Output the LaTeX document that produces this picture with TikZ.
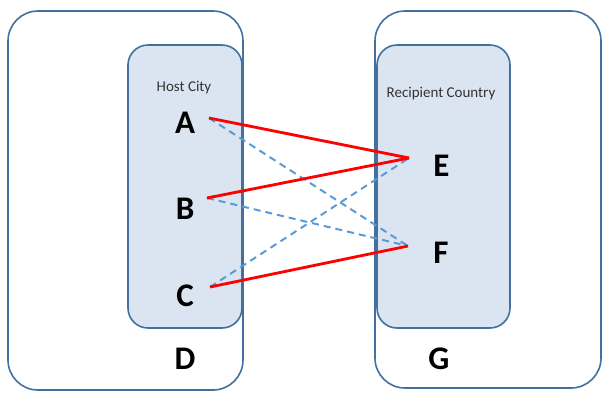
\documentclass[tikz,border=0pt]{standalone}
\usepackage{fontspec}
\setmainfont{Carlito}
\definecolor{frame}{RGB}{65,113,156}
\definecolor{panel}{RGB}{219,229,242}
\definecolor{link}{RGB}{91,155,213}

\begin{document}
\begin{tikzpicture}[x=1pt, y=-1pt,
		outer/.style={draw=frame, line width=1.6pt, rounded corners=30pt},
		inner/.style={draw=frame, fill=panel, line width=1.6pt, rounded corners=20pt},
		letter/.style={font=\fontsize{33}{33}\selectfont\bfseries, inner sep=0pt, anchor=base},
		title/.style={font=\fontsize{15}{15}\selectfont, text=black!80, inner sep=0pt, anchor=base},
		strong/.style={red, line width=2.8pt},
		weak/.style={link, line width=2pt, dash pattern=on 7pt off 5pt}]

	\useasboundingbox (0,0) rectangle (604,392);

	\draw[outer] (8,11) rectangle (243,390);
	\draw[outer] (375,11) rectangle (601,388);
	\draw[inner] (128,45) rectangle (242,328);
	\draw[inner] (377,45) rectangle (510,328);

	\node[title] (host) at (184,91) {Host City};
	\node[title] (recipient) at (441,97.5) {Recipient Country};

	\node[letter] (A) at (185,133) {A};
	\node[letter] (B) at (185,219) {B};
	\node[letter] (C) at (185,306) {C};
	\node[letter] (D) at (185,369) {D};
	\node[letter] (E) at (441.5,176) {E};
	\node[letter] (F) at (441,263) {F};
	\node[letter] (G) at (439,369) {G};

	\coordinate (a) at (209,118);
	\coordinate (b) at (207,198);
	\coordinate (c) at (210,287);
	\coordinate (e) at (409,158);
	\coordinate (f) at (408,246);

	\draw[weak] (a) -- (f);
	\draw[weak] (b) -- (f);
	\draw[weak] (b) -- (e);
	\draw[weak] (c) -- (e);

	\draw[strong] (a) -- (e);
	\draw[strong] (b) -- (e);
	\draw[strong] (c) -- (f);
\end{tikzpicture}
\end{document}
